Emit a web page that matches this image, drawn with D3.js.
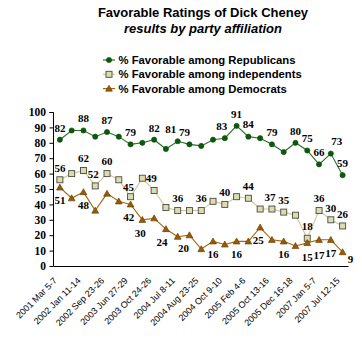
<!DOCTYPE html>
<html><head><meta charset="utf-8">
<script src="https://cdn.jsdelivr.net/npm/d3@7/dist/d3.min.js"></script>
<style>body{margin:0;background:#fff} svg{display:block}</style>
</head><body>
<svg id="c" width="362" height="359"></svg>
<script>
// ---- data ----
const pollIndex = [0,1,2,3,4,5,6,7,8,9,10,11,12,13,14,15,16,17,18,19,20,21,22,23,24];
const tickLabels = ["2001 Mar 5-7","2002 Jan 11-14","2002 Sep 23-26","2003 Jun 27-29","2003 Oct 24-26","2004 Jul 8-11","2004 Aug 23-25","2004 Oct 9-10","2005 Feb 4-6","2005 Oct 13-16","2005 Dec 16-18","2007 Jan 5-7","2007 Jul 12-15"];
const tickIndex = [0,2,4,6,8,10,12,14,16,18,20,22,24];
const republicans = [82,88,88,84,87,84,79,80,82,76,81,79,78,82,83,91,84,83,79,74,80,75,66,73,59];
const independents = [56,60,62,52,60,56,45,57,49,38,36,36,36,42,40,45,44,37,37,35,33,18,36,30,26];
const democrats = [51,44,48,36,47,42,40,30,31,24,19,20,11,16,14,16,16,25,17,16,13,15,17,17,9];
const yTicks = [0,10,20,30,40,50,60,70,80,90,100];
const seriesNames = ["% Favorable among Republicans","% Favorable among independents","% Favorable among Democrats"];
// which points carry a value label
const repLabeled = [0,2,4,6,8,10,11,14,15,16,18,20,21,22,23,24];
const indLabeled = [0,2,3,4,6,8,10,12,14,16,18,19,21,22,23,24];
const demLabeled = [0,2,5,7,9,11,13,15,17,19,21,22,23,24];

// ---- label nudges (style) ----
const nudge = {
  rep: {dy:-12, dx:{10:-7, 11:-5, 14:-3, 23:6}, ddy:{}},
  ind: {dy:-12, dx:{3:-2, 6:-2, 8:-3, 18:-2}, ddy:{6:2}},
  dem: {dy:13, dx:{5:10, 7:-2, 9:-4, 11:-6, 17:-2, 24:8}, ddy:{5:3, 21:1, 22:2, 24:-6}}
};

const svg = d3.select("#c");
const x = d3.scalePoint().domain(pollIndex).range([54, 348.5]).padding(0.5);
const y = d3.scaleLinear().domain([0,100]).range([266,112]);

// title
svg.append("text").attr("x",203).attr("y",17).attr("text-anchor","middle")
  .style("font","bold 13px 'Liberation Sans', Arial, sans-serif").text("Favorable Ratings of Dick Cheney");
svg.append("text").attr("x",203).attr("y",33).attr("text-anchor","middle")
  .style("font","italic bold 13px 'Liberation Sans', Arial, sans-serif").text("results by party affiliation");

const styles = [
  {line:"#2a702a", fill:"#0b5a0b", stroke:"#0b4a0b", shape:"circle"},
  {line:"#c8c896", fill:"#dcdcb4", stroke:"#4a4a3a", shape:"square"},
  {line:"#a8660c", fill:"#9a5c00", stroke:"#5a3600", shape:"triangle"}
];
function marker(g, shape, st){
  if(shape==="circle") g.append("circle").attr("r",2.6).attr("fill",st.fill).attr("stroke",st.stroke).attr("stroke-width",0.6);
  else if(shape==="square") g.append("rect").attr("x",-3).attr("y",-3).attr("width",6).attr("height",6).attr("fill",st.fill).attr("stroke",st.stroke).attr("stroke-width",0.9);
  else g.append("path").attr("d","M0,-3.4L3.4,2.6L-3.4,2.6Z").attr("fill",st.fill).attr("stroke",st.stroke).attr("stroke-width",0.6);
}

// legend
seriesNames.forEach((n,i)=>{
  const ly = 60 + i*14.3;
  svg.append("line").attr("x1",103).attr("x2",115).attr("y1",ly).attr("y2",ly).attr("stroke",styles[i].line).attr("stroke-width",1.2);
  marker(svg.append("g").attr("transform",`translate(109,${ly})`), styles[i].shape, styles[i]);
  svg.append("text").attr("x",118.5).attr("y",ly).attr("dy","0.36em")
    .style("font","bold 11.3px 'Liberation Sans', Arial, sans-serif").text(n);
});

// y axis
const yAxis = d3.axisLeft(y).tickValues(yTicks).tickSize(4).tickPadding(3.5);
const ya = svg.append("g").attr("transform","translate(53.5,0)").call(yAxis);
ya.select(".domain").attr("stroke","#000").attr("d","M-4,112.5H0V266");
ya.selectAll(".tick line").attr("stroke","#000");
ya.selectAll(".tick text").style("font","bold 11.5px 'Liberation Serif', 'Times New Roman', serif").attr("fill","#000");

// x axis
const xAxis = d3.axisBottom(x).tickValues(tickIndex).tickSize(0).tickFormat(d=>tickLabels[tickIndex.indexOf(d)]);
const xa = svg.append("g").attr("transform","translate(0,266)").call(xAxis);
xa.select(".domain").attr("stroke","#000").attr("d","M53.5,0.5H348.5");
xa.selectAll(".tick text").attr("text-anchor","end")
  .attr("transform","translate(-5,13) rotate(-45)").attr("dy","0.35em").attr("y",0)
  .style("font","9px 'Liberation Sans', Arial, sans-serif").attr("fill","#000");

// series
const all = [
  {vals:republicans, lab:repLabeled, nd:nudge.rep},
  {vals:independents, lab:indLabeled, nd:nudge.ind},
  {vals:democrats, lab:demLabeled, nd:nudge.dem}
];
const line = d3.line().x((d,i)=>x(pollIndex[i])).y(d=>y(d));
all.forEach((s,si)=>{
  const st = styles[si];
  svg.append("path").datum(s.vals).attr("d",line).attr("fill","none").attr("stroke",st.line).attr("stroke-width",1.1);
  s.vals.forEach((v,i)=>{
    marker(svg.append("g").attr("transform",`translate(${x(pollIndex[i])},${y(v)})`), st.shape, st);
  });
});
all.forEach((s,si)=>{
  s.lab.forEach(i=>{
    const v = s.vals[i];
    svg.append("text").attr("x", x(pollIndex[i]) + (s.nd.dx[i]||0))
      .attr("y", y(v) + s.nd.dy + (s.nd.ddy[i]||0)).attr("dy","0.35em").attr("text-anchor","middle")
      .style("font","bold 11px 'Liberation Serif', 'Times New Roman', serif").attr("fill","#000").text(v);
  });
});
</script>
</body></html>
